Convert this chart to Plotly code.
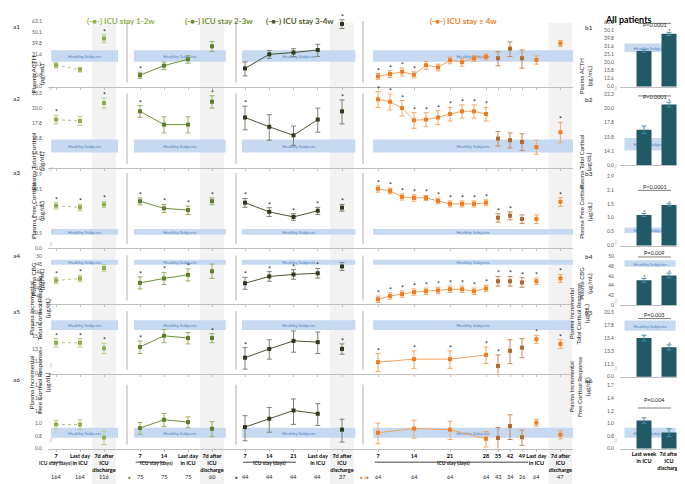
import math
import plotly.graph_objects as go

W, H = 685, 484
FONT = "Lato"

# ===================== DATA =====================
PANEL_NAMES = ["ICU stay 1-2w", "ICU stay 2-3w", "ICU stay 3-4w", "ICU stay \u2265 4w"]
ROW_TAGS = ["a1", "a2", "a3", "a4", "a5", "a6"]
BAR_TAGS = ["b1", "b2", "b3", "b4", "b5", "b6"]
Y_TITLES = [
    "Plasma ACTH<br>(pg/mL)",
    "Plasma Total Cortisol<br>(\u03bcg/dL)",
    "Plasma Free Cortisol<br>(\u03bcg/dL)",
    "Plasma CBG<br>(\u03bcg/mL)",
    "Plasma Incremental<br>Total Cortisol Response<br>(\u03bcg/dL)",
    "Plasma Incremental<br>Free Cortisol Response<br>(\u03bcg/dL)",
]

X_P1 = [0, 1, 2]
X_P2 = [0, 1, 2, 3]
X_P3 = [0, 1, 2, 3, 4]
X_P4_ALL = [0, 1, 2, 3, 4, 5, 6, 7, 8, 9, 10, 11, 12, 13.2, 15.2]
X_P4_WEEK = [0, 3, 6, 9, 10, 11, 12, 13.2, 15.2]

XT_P1 = ["7", "Last day<br>in ICU", "7d after<br>ICU<br>discharge"]
XT_P2 = ["7", "14", "Last day<br>in ICU", "7d after<br>ICU<br>discharge"]
XT_P3 = ["7", "14", "21", "Last day<br>in ICU", "7d after<br>ICU<br>discharge"]
XT_P4 = ["7", "14", "21", "28", "35", "42", "49", "Last day<br>in ICU", "7d after<br>ICU<br>discharge"]
XT_BAR = ["Last week<br>in ICU", "7d after<br>ICU<br>discharge"]

N_P1 = ["164", "164", "116"]
N_P2 = ["75", "75", "75", "60"]
N_P3 = ["44", "44", "44", "44", "37"]
N_P4 = ["64", "64", "64", "64", "43", "34", "26", "64", "47"]

YT_A = [
    ["0.0", "20.0", "25.1", "31.6", "39.8", "50.1", "63.1"],
    ["0.0", "14.1", "15.8", "17.8", "20.0", "22.3"],
    ["0.0", "0.5", "1.0", "1.5", "2.1", "2.9"],
    ["0", "40", "42", "44", "46", "48", "50"],
    ["0.0", "11.5", "13.3", "15.4", "17.8", "20.5"],
    ["0.0", "0.8", "1.0", "1.2", "1.4", "1.7"],
]
YT_B = [
    ["0.0", "12.6", "15.8", "20.0", "25.1", "31.6", "39.8", "50.1", "63.1"],
    ["0.0", "14.1", "15.8", "17.8", "20.0", "22.3"],
    ["0.0", "0.5", "1.0", "1.5", "2.1", "2.9"],
    ["0", "42", "44", "46", "48", "50"],
    ["0.0", "11.5", "13.3", "15.4", "17.8", "20.5"],
    ["0.0", "0.8", "1.0", "1.2", "1.4", "1.7"],
]

MEAN_A1 = [
    [24.9, 22.7, 43.9],
    [20.2, 24.7, 28.3, 37.2],
    [23.3, 31.4, 32.6, 34.4, 59.7],
    [19.7, 20.7, 21.7, 20.4, 24.9, 23.8, 27.7, 26.6, 28.9, 29.8, 28.9, 35.4, 28.9, 27.9, 39.6],
]
SEM_A1 = [
    [1.4, 1.1, 3.7],
    [1.3, 2.0, 2.3, 3.9],
    [3.4, 2.6, 2.7, 4.4, 5.5],
    [1.2, 1.5, 1.8, 1.3, 2.1, 1.7, 2.0, 2.2, 1.8, 1.9, 4.3, 5.4, 5.5, 2.4, 2.5],
]
STAR_A1 = [[0, 0, 1], [1, 0, 0, 0], [0, 0, 0, 0, 1],
           [1, 1, 1, 1, 0, 0, 0, 0, 0, 0, 0, 0, 0, 0, 0]]
MEAN_A2 = [
    [18.3, 18.1, 20.8],
    [19.5, 17.6, 17.6, 21.0],
    [18.6, 17.3, 16.2, 18.3, 19.5],
    [21.4, 21.0, 20.0, 18.2, 18.3, 18.6, 19.1, 19.5, 19.5, 19.1, 15.8, 15.6, 15.4, 14.8, 16.6],
]
SEM_A2 = [
    [0.6, 0.6, 0.8],
    [0.9, 1.1, 1.1, 1.0],
    [1.7, 1.7, 1.2, 1.7, 1.8],
    [1.3, 1.3, 1.2, 1.1, 1.0, 1.0, 1.0, 1.0, 1.0, 1.0, 0.9, 0.9, 1.0, 0.8, 1.3],
]
STAR_A2 = [[1, 0, 1], [1, 0, 0, 1], [1, 0, 0, 0, 1],
           [1, 1, 1, 1, 1, 1, 1, 1, 1, 1, 0, 0, 0, 0, 1]]
MEAN_A3 = [
    [1.35, 1.30, 1.39],
    [1.50, 1.27, 1.22, 1.50],
    [1.45, 1.17, 1.04, 1.20, 1.29],
    [2.0, 1.91, 1.66, 1.62, 1.62, 1.51, 1.41, 1.41, 1.41, 1.45, 1.02, 1.07, 0.99, 0.99, 1.48],
]
SEM_A3 = [
    [0.1, 0.1, 0.1],
    [0.12, 0.12, 0.12, 0.12],
    [0.15, 0.12, 0.08, 0.1, 0.1],
    [0.15, 0.13, 0.12, 0.12, 0.1, 0.1, 0.1, 0.1, 0.1, 0.1, 0.1, 0.1, 0.1, 0.1, 0.15],
]
STAR_A3 = [[1, 1, 1], [1, 1, 1, 1], [1, 1, 1, 1, 1],
           [1, 1, 1, 1, 1, 1, 1, 1, 1, 1, 1, 1, 0, 0, 1]]
MEAN_A4 = [
    [44.0, 44.5, 47.1],
    [43.4, 44.5, 45.4, 46.3],
    [43.3, 45.0, 45.5, 45.8, 47.5],
    [39.3, 40.1, 40.6, 41.1, 41.3, 41.5, 41.8, 41.8, 41.3, 42.0, 43.8, 43.8, 43.5, 43.8, 44.5],
]
SEM_A4 = [
    [0.8, 0.8, 0.8],
    [1.5, 1.5, 1.5, 1.8],
    [1.5, 1.2, 1.2, 1.2, 1.0],
    [0.8, 0.8, 0.8, 0.8, 0.8, 0.8, 0.8, 0.8, 0.8, 0.8, 1.2, 1.2, 1.2, 0.8, 1.0],
]
STAR_A4 = [[1, 1, 0], [1, 1, 1, 0], [1, 1, 1, 1, 0],
           [1, 1, 1, 1, 1, 1, 1, 1, 1, 1, 1, 1, 1, 1, 1]]
MEAN_A5 = [
    [14.3, 14.3, 13.4],
    [13.6, 15.5, 15.1, 15.1],
    [12.0, 13.3, 14.6, 14.4, 13.3],
    [11.4, 11.8, 11.8, 12.4, 10.9, 13.0, 13.5, 14.9, 14.1],
]
SEM_A5 = [
    [0.7, 0.7, 0.8],
    [1.0, 1.2, 1.0, 0.8],
    [1.5, 1.5, 1.8, 1.8, 0.8],
    [1.2, 1.2, 1.2, 1.2, 1.5, 1.8, 1.5, 0.7, 0.7],
]
STAR_A5 = [[1, 1, 1], [1, 0, 0, 1], [1, 0, 0, 0, 1], [1, 1, 1, 1, 1, 0, 0, 1, 1]]
MEAN_A6 = [
    [0.985, 0.983, 0.814],
    [0.934, 1.054, 1.019, 0.925],
    [0.948, 1.07, 1.206, 1.15, 0.913],
    [0.874, 0.927, 0.913, 0.80, 0.81, 0.962, 0.818, 1.01, 0.849],
]
SEM_A6 = [
    [0.06, 0.07, 0.08],
    [0.08, 0.10, 0.08, 0.10],
    [0.17, 0.19, 0.22, 0.18, 0.15],
    [0.13, 0.12, 0.12, 0.09, 0.13, 0.17, 0.09, 0.05, 0.05],
]
STAR_A6 = [[0, 0, 0], [0, 0, 0, 0], [0, 0, 0, 0, 0], [0, 0, 0, 0, 0, 0, 0, 0, 0]]

HEALTHY = [(26.8, 34.2), (14.2, 15.7), (0.684, 0.785), (47.9, 49.2), (16.6, 18.6), (0.813, 0.94)]

BAR_MEAN = [[27.6, 45.1], [16.8, 20.6], [1.07, 1.37], [45.1, 46.1], [15.3, 13.8], [1.044, 0.875]]
BAR_SEM = [[0.9, 2.0], [0.5, 0.4], [0.04, 0.04], [0.4, 0.5], [0.5, 0.4], [0.04, 0.05]]
BAR_STAR = [[0, 1], [0, 1], [1, 1], [1, 1], [0, 1], [0, 0]]
P_TEXT = ["P<0.0001", "P<0.0001", "P<0.0001", "P=0.009", "P=0.003", "P=0.004"]

MEANS = [MEAN_A1, MEAN_A2, MEAN_A3, MEAN_A4, MEAN_A5, MEAN_A6]
SEMS = [SEM_A1, SEM_A2, SEM_A3, SEM_A4, SEM_A5, SEM_A6]
STARS = [STAR_A1, STAR_A2, STAR_A3, STAR_A4, STAR_A5, STAR_A6]

# ===================== LAYOUT / STYLE =====================
A_YSPEC = [
    dict(kind="log", top=3, bottom=79, step=10.95, L0=1.201, d=0.1),
    dict(kind="log", top=82, bottom=161, step=15.0, L0=1.1, d=0.05),
    dict(kind="log", top=163, bottom=241.7, step=14.9, L0=-0.3, d=0.15),
    dict(kind="lin", top=245, bottom=298.3, step=8.05, L0=38, d=2),
    dict(kind="log", top=302, bottom=368, step=12.4, L0=0.998, d=0.0625),
    dict(kind="log", top=375, bottom=443.3, step=12.66, L0=-0.1584, d=0.0792),
]
B_YSPEC = [
    dict(kind="log", top=3, bottom=79, step=8.1, L0=1.0, d=0.1),
    dict(kind="log", top=82, bottom=158.3, step=14.3, L0=1.1, d=0.05),
    dict(kind="log", top=163, bottom=239, step=14.0, L0=-0.3, d=0.15),
    dict(kind="lin", top=245, bottom=299, step=9.8, L0=40, d=2),
    dict(kind="log", top=302, bottom=371, step=13.0, L0=0.998, d=0.0625),
    dict(kind="log", top=375, bottom=443.3, step=12.66, L0=-0.1584, d=0.0792),
]

X_DOM = [(40, 119), (119, 228), (228, 355), (355, 565), (612, 676)]
X_STEP = [24, 24, 24.25, 12, 25]
X_FIRST = [48, 132, 237, 370, 636]
BAND_DOM = [(0.04, 0.886), (0.064, 0.906), (0.047, 0.94), (0.048, 1.0), (0.07, 0.87)]

PANEL_MARKER = ["#8DB04C", "#5E7F2A", "#2E3A1C", "#F07D1F"]
PANEL_LINE = ["#AFC47A", "#6E8F3A", "#4A5436", "#F4A261"]
PANEL_ERR = ["#B9CB8A", "#98AD6A", "#7C8270", "#F2A866"]
PANEL_DASH = ["dot", "solid", "solid", "solid"]
BROWN_M, BROWN_E = "#B5682C", "#C48A58"
BAR_COLOR = "#215967"
BAND_COLOR = "#C6D9F1"
AX = "#BFBFBF"
TXT = "#262626"


def W_(px):
    return px / W


def H_(py):
    return 1 - py / H


def suf(n):
    return "" if n == 1 else str(n)


def yc(v, spec):
    return math.log10(v) if spec["kind"] == "log" else v


def yaxis_cfg(spec, labels, n, show):
    k = len(labels)
    if spec["kind"] == "log":
        vals = [10 ** (spec["L0"] + i * spec["d"]) for i in range(k)]
        typ = "log"
    else:
        vals = [spec["L0"] + i * spec["d"] for i in range(k)]
        typ = "linear"
    rng = [spec["L0"], spec["L0"] + (spec["bottom"] - spec["top"]) / spec["step"] * spec["d"]]
    return dict(domain=[H_(spec["bottom"]), H_(spec["top"])], range=rng, type=typ,
                anchor="x" + suf(n), tickvals=vals, ticktext=labels, showticklabels=show,
                ticks="", showline=False, showgrid=False, zeroline=False,
                tickfont=dict(size=5, color="#595959", family=FONT),
                ticklabelstandoff=5, fixedrange=True)


fig = go.Figure()
lay = dict(width=W, height=H, margin=dict(l=0, r=0, t=0, b=0), paper_bgcolor="white",
           plot_bgcolor="rgba(0,0,0,0)", showlegend=False,
           font=dict(family=FONT, color=TXT))
shapes, annots = [], []

PX = [X_P1, X_P2, X_P3, None]
PXT = [XT_P1, XT_P2, XT_P3, XT_P4]

for p in range(4):
    xs = PX[p] if p < 3 else X_P4_WEEK
    half = 0.49 if p < 3 else 0.98
    shapes.append(dict(type="rect", xref="x" + suf(p + 1), yref="paper",
                       x0=xs[-1] - half, x1=xs[-1] + half, y0=0, y1=H_(15),
                       fillcolor="#F2F2F2", line=dict(width=0), layer="below"))


def band(n, dom, lo, hi):
    shapes.append(dict(type="rect", xref="x" + suf(n) + " domain", yref="y" + suf(n),
                       x0=dom[0], x1=dom[1], y0=lo, y1=hi,
                       fillcolor=BAND_COLOR, line=dict(width=0), layer="below",
                       label=dict(text="Healthy Subjects",
                                  font=dict(size=4.5, color="#4F81BD", family=FONT))))


for r in range(6):
    spec = A_YSPEC[r]
    for p in range(4):
        n = r * 5 + p + 1
        xs = PX[p] if p < 3 else (X_P4_ALL if len(MEANS[r][3]) == 15 else X_P4_WEEK)
        tv = PX[p] if p < 3 else X_P4_WEEK
        x0p, x1p = X_DOM[p]
        lay["xaxis" + suf(n)] = dict(
            domain=[W_(x0p), W_(x1p)],
            range=[(x0p - X_FIRST[p]) / X_STEP[p], (x1p - X_FIRST[p]) / X_STEP[p]],
            anchor="y" + suf(n), showline=True, linecolor=AX, linewidth=1,
            ticks="outside", ticklen=2, tickcolor=AX, tickvals=tv, tickangle=0,
            ticktext=["<b>%s</b>" % t for t in PXT[p]], showticklabels=(r == 5),
            tickfont=dict(size=5.5, color="black", family=FONT),
            showgrid=False, zeroline=False, fixedrange=True)
        lay["yaxis" + suf(n)] = yaxis_cfg(spec, YT_A[r], n, p == 0)

        mean, sem, star = MEANS[r][p], SEMS[r][p], STARS[r][p]
        if p < 3:
            li = list(range(len(mean) - 1))
        else:
            li = [i for i in range(len(mean)) if xs[i] <= 9]
        fig.add_trace(go.Scatter(
            x=[xs[i] for i in li], y=[mean[i] for i in li], mode="lines",
            line=dict(color=PANEL_LINE[p], width=1, dash=PANEL_DASH[p]),
            xaxis="x" + suf(n), yaxis="y" + suf(n), hoverinfo="skip", cliponaxis=False))
        if p < 3:
            groups = [(list(range(len(mean))), PANEL_MARKER[p], PANEL_ERR[p])]
        else:
            br = [i for i in range(len(mean)) if 10 <= xs[i] <= 12]
            org = [i for i in range(len(mean)) if i not in br]
            groups = [(org, PANEL_MARKER[p], PANEL_ERR[p]), (br, BROWN_M, BROWN_E)]
        for idx, mc, ec in groups:
            fig.add_trace(go.Scatter(
                x=[xs[i] for i in idx], y=[mean[i] for i in idx], mode="markers",
                marker=dict(symbol="square", size=4, color=mc),
                error_y=dict(type="data", array=[sem[i] for i in idx], color=ec,
                             thickness=1, width=2.5),
                xaxis="x" + suf(n), yaxis="y" + suf(n), hoverinfo="skip", cliponaxis=False))
        for i, s in enumerate(star):
            if s:
                annots.append(dict(x=xs[i], y=yc(mean[i] + sem[i], spec), xref="x" + suf(n),
                                   yref="y" + suf(n), text="*", showarrow=False,
                                   yanchor="bottom", yshift=-3,
                                   font=dict(size=7, color=TXT, family=FONT)))
        lo, hi = HEALTHY[r]
        band(n, BAND_DOM[p], lo, hi)

    n = r * 5 + 5
    bspec = B_YSPEC[r]
    x0p, x1p = X_DOM[4]
    lay["xaxis" + suf(n)] = dict(
        domain=[W_(x0p), W_(x1p)],
        range=[(x0p - X_FIRST[4]) / X_STEP[4], (x1p - X_FIRST[4]) / X_STEP[4]],
        anchor="y" + suf(n), showline=True, linecolor=AX, linewidth=1, ticks="",
        tickvals=[0, 1], ticktext=["<b>%s</b>" % t for t in XT_BAR], showticklabels=(r == 5),
        tickangle=0, tickfont=dict(size=5.5, color="black", family=FONT),
        showgrid=False, zeroline=False, fixedrange=True)
    lay["yaxis" + suf(n)] = yaxis_cfg(bspec, YT_B[r], n, True)
    lo, hi = HEALTHY[r]
    band(n, BAND_DOM[4], lo, hi)
    fig.add_trace(go.Bar(
        x=[0, 1], y=BAR_MEAN[r], width=0.6, marker=dict(color=BAR_COLOR, line=dict(width=0)),
        error_y=dict(type="data", array=BAR_SEM[r], color="#4A90A4", thickness=1, width=2.5),
        xaxis="x" + suf(n), yaxis="y" + suf(n), hoverinfo="skip"))
    for i, s in enumerate(BAR_STAR[r]):
        if s:
            annots.append(dict(x=i, y=yc(BAR_MEAN[r][i] + BAR_SEM[r][i], bspec),
                               xref="x" + suf(n), yref="y" + suf(n), text="*", showarrow=False,
                               yanchor="bottom", yshift=-4,
                               font=dict(size=6.5, color=TXT, family=FONT)))

ROW_TOP = [13, 86, 166, 249, 305, 379]
P_TXT_Y = [12, 85, 180, 247, 309, 399]
for r in range(6):
    sp = A_YSPEC[r]
    for xp in (119, 228, 355):
        shapes.append(dict(type="line", xref="paper", yref="paper", x0=W_(xp), x1=W_(xp),
                           y0=H_(sp["bottom"] - 4), y1=H_(ROW_TOP[r]),
                           line=dict(color="#B0B0B0", width=1)))
    annots.append(dict(x=W_(3), y=H_(ROW_TOP[r]), xref="paper", yref="paper", text=ROW_TAGS[r],
                       showarrow=False, xanchor="left", font=dict(size=6.5, color=TXT)))
    annots.append(dict(x=W_(575), y=H_(ROW_TOP[r] + 1), xref="paper", yref="paper",
                       text=BAR_TAGS[r], showarrow=False, xanchor="left",
                       font=dict(size=6.5, color=TXT)))
    three = Y_TITLES[r].count("<br>") == 2
    ymid = (ROW_TOP[r] + sp["bottom"]) / 2
    annots.append(dict(x=W_(18 if three else 20), y=H_(ymid), xref="paper", yref="paper",
                       text=Y_TITLES[r], textangle=-90, showarrow=False,
                       font=dict(size=6.3, color=TXT)))
    bsp = B_YSPEC[r]
    annots.append(dict(x=W_(585 if three else 587), y=H_((ROW_TOP[r] + bsp["bottom"]) / 2 + 3),
                       xref="paper", yref="paper", text=Y_TITLES[r], textangle=-90,
                       showarrow=False, font=dict(size=6, color=TXT)))
    for xp, spc in ((39, sp), (612, bsp)):
        annots.append(dict(x=W_(xp), y=H_(spc["bottom"] - 4), xref="paper", yref="paper",
                           text="//", showarrow=False, font=dict(size=5, color="#A0A0A0")))
    n = r * 5 + 5
    annots.append(dict(x=0.42, y=H_(P_TXT_Y[r]), xref="x" + suf(n), yref="paper",
                       text=P_TEXT[r], showarrow=False, font=dict(size=5.5, color=TXT)))
    shapes.append(dict(type="line", xref="x" + suf(n), yref="paper", x0=-0.24, x1=1.08,
                       y0=H_(P_TXT_Y[r] + 3.5), y1=H_(P_TXT_Y[r] + 3.5),
                       line=dict(color="#7F7F7F", width=1)))

HEAD_X = [77, 175, 292, 455]
HEAD_C = ["#8DB04C", "#6E8B2F", "#4F5A2C", "#F07D1F"]
for p in range(4):
    annots.append(dict(x=W_(HEAD_X[p]), y=H_(6), xref="paper", yref="paper",
                       text="<b>(-\u25cf-) %s</b>" % PANEL_NAMES[p], showarrow=False,
                       font=dict(size=8, color=HEAD_C[p])))
annots.append(dict(x=W_(645), y=H_(4.5), xref="paper", yref="paper", text="<b>All patients</b>",
                   showarrow=False, font=dict(size=9, color="black")))

LINE_SPAN = [(-0.21, 0.25), (-0.18, 1.05), (-0.08, 2.1), (-0.28, 12.5)]
TEXT_X = [-0.01, 0.67, 1.03, 6.25]
COUNT_DOT_X = [-0.47, -0.43, -0.35, -1.1]
NS = [N_P1, N_P2, N_P3, N_P4]
for p in range(4):
    n = 25 + p + 1
    xs = PX[p] if p < 3 else X_P4_WEEK
    shapes.append(dict(type="line", xref="x" + suf(n), yref="paper", x0=LINE_SPAN[p][0],
                       x1=LINE_SPAN[p][1], y0=H_(457), y1=H_(457),
                       line=dict(color="#404040", width=1)))
    annots.append(dict(x=TEXT_X[p], y=H_(463), xref="x" + suf(n), yref="paper",
                       text="<b>ICU stay (days)</b>", showarrow=False,
                       font=dict(size=5, color=TXT)))
    for xv, t in zip(xs, NS[p]):
        annots.append(dict(x=xv, y=H_(477), xref="x" + suf(n), yref="paper", text=t,
                           showarrow=False, font=dict(size=5.5, color=TXT)))
    dot = ("<span style='color:%s'>\u25cf</span>" % PANEL_MARKER[p]) if p < 3 else \
        ("<span style='color:%s'>\u25cf</span> /<span style='color:%s'>\u25cf</span>"
         % (PANEL_MARKER[3], BROWN_M))
    annots.append(dict(x=COUNT_DOT_X[p], y=H_(477), xref="x" + suf(n), yref="paper",
                       text=dot, showarrow=False, font=dict(size=4.5, color=TXT)))

lay["shapes"] = shapes
lay["annotations"] = annots
fig.update_layout(**lay)
fig.write_html("out.html")
